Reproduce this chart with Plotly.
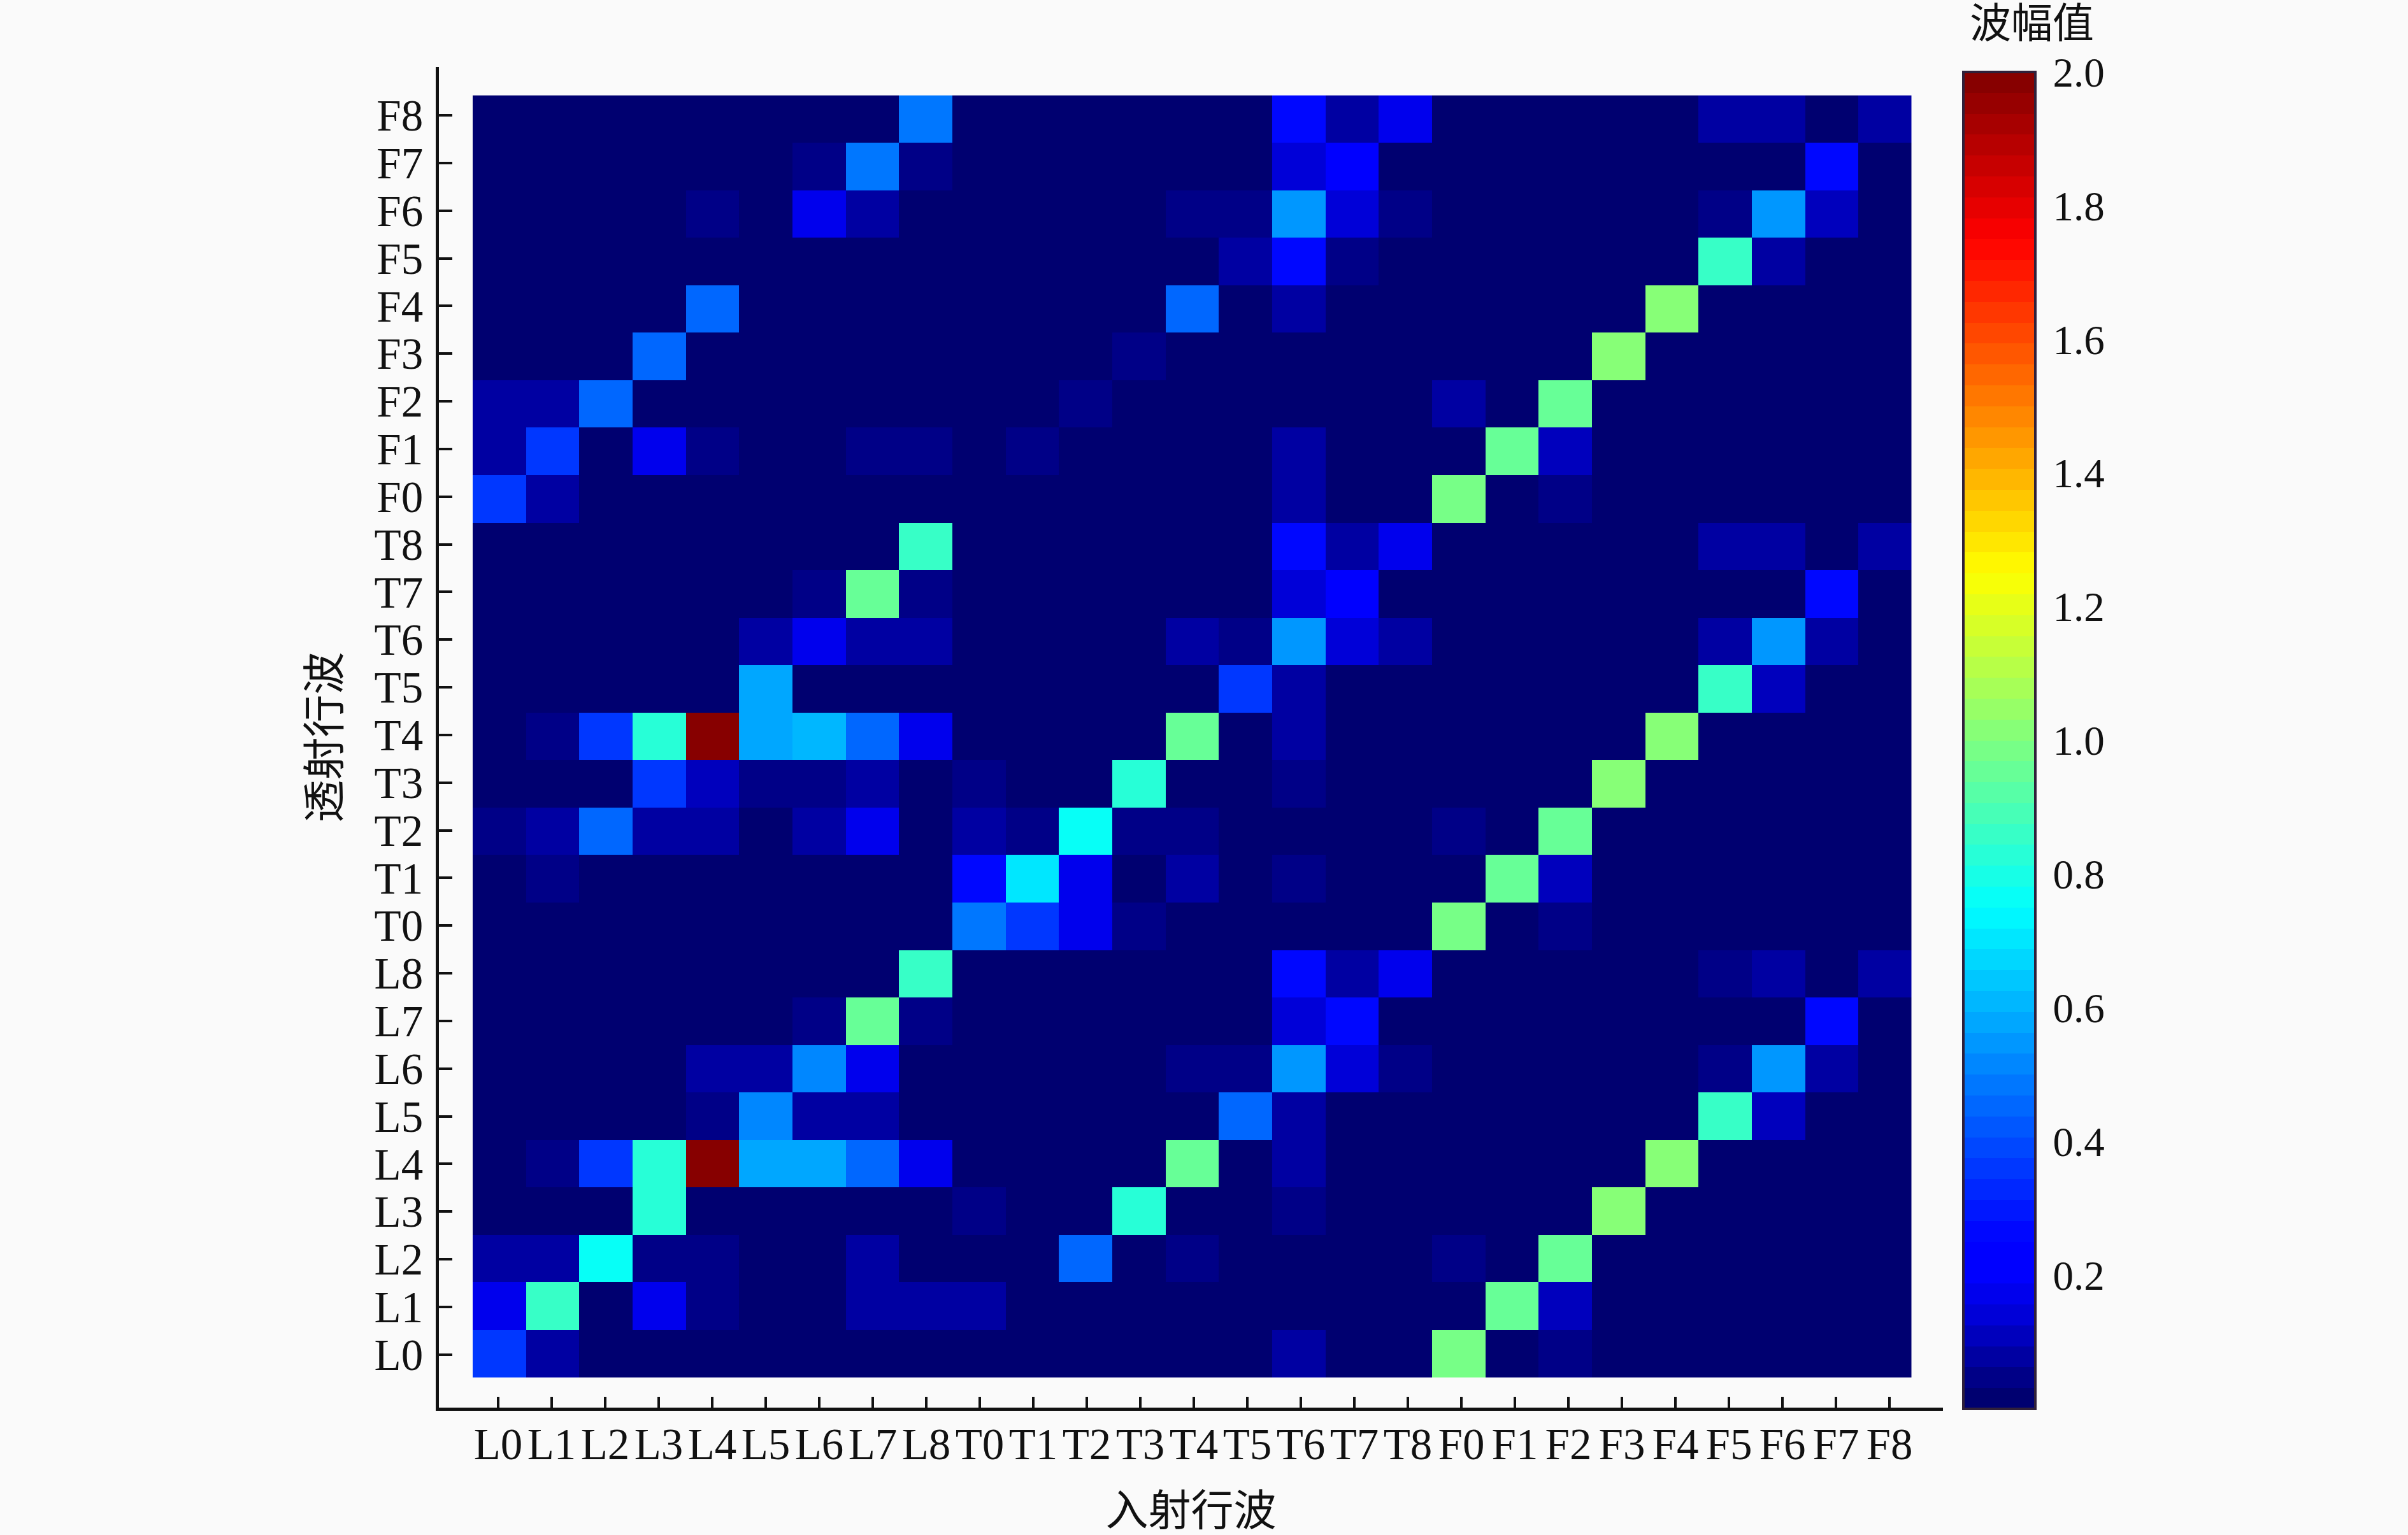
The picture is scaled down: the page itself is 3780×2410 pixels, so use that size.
import numpy as np
import plotly.graph_objects as go

tick_labels = ["L0","L1","L2","L3","L4","L5","L6","L7","L8",
               "T0","T1","T2","T3","T4","T5","T6","T7","T8",
               "F0","F1","F2","F3","F4","F5","F6","F7","F8"]
colorbar_ticks = [0.2,0.4,0.6,0.8,1.0,1.2,1.4,1.6,1.8,2.0]

# amplitude rows (transmitted wave), each with 27 incident-wave columns: L0..L8, T0..T8, F0..F8
row_L0 = [.37,.09,.01,.01,.01,.01,.01,.01,.01, .01,.01,.01,.01,.01,.01,.09,.01,.01, .97,.01,.06,.01,.01,.01,.01,.01,.01]
row_L1 = [.16,.85,.03,.165,.06,.01,.01,.07,.07, .07,.01,.01,.01,.01,.01,.01,.01,.01, .01,.94,.10,.01,.01,.01,.01,.01,.01]
row_L2 = [.09,.09,.75,.06,.05,.01,.01,.08,.01, .01,.01,.45,.01,.05,.01,.01,.01,.01, .05,.01,.94,.01,.01,.01,.01,.01,.01]
row_L3 = [.01,.01,.01,.84,.01,.01,.01,.01,.01, .05,.01,.01,.82,.01,.01,.05,.01,.01, .01,.01,.01,1.0,.01,.01,.01,.01,.01]
row_L4 = [.01,.05,.37,.84,2.0,.58,.58,.45,.165, .01,.01,.01,.01,.94,.01,.09,.01,.01, .01,.01,.01,.01,1.0,.01,.01,.01,.01]
row_L5 = [.01,.01,.01,.01,.05,.53,.08,.07,.01, .01,.01,.01,.01,.01,.45,.09,.01,.01, .01,.01,.01,.01,.01,.85,.10,.01,.01]
row_L6 = [.01,.01,.01,.03,.08,.08,.53,.17,.01, .01,.01,.01,.01,.06,.06,.55,.15,.06, .01,.01,.01,.01,.01,.06,.55,.09,.01]
row_L7 = [.01,.01,.01,.01,.01,.01,.04,.94,.06, .01,.01,.01,.01,.01,.01,.15,.25,.01, .01,.01,.01,.01,.01,.01,.01,.28,.01]
row_L8 = [.01,.01,.01,.01,.01,.01,.01,.01,.87, .01,.01,.01,.01,.01,.01,.25,.09,.165, .01,.01,.01,.01,.01,.06,.09,.01,.09]
row_T0 = [.01,.01,.01,.01,.01,.01,.01,.01,.01, .47,.37,.17,.04,.01,.01,.01,.01,.01, .98,.01,.05,.01,.01,.01,.01,.01,.01]
row_T1 = [.01,.05,.01,.01,.01,.01,.01,.01,.01, .25,.69,.17,.01,.07,.01,.05,.01,.01, .01,.94,.10,.01,.01,.01,.01,.01,.01]
row_T2 = [.06,.07,.46,.09,.09,.01,.09,.17,.01, .09,.04,.75,.04,.06,.01,.01,.01,.01, .06,.01,.94,.01,.01,.01,.01,.01,.01]
row_T3 = [.01,.01,.01,.37,.10,.06,.06,.08,.01, .05,.01,.01,.82,.01,.01,.05,.01,.01, .01,.01,.01,1.0,.01,.01,.01,.01,.01]
row_T4 = [.01,.04,.37,.82,2.0,.58,.61,.45,.165, .01,.01,.01,.01,.94,.01,.09,.01,.01, .01,.01,.01,.01,1.0,.01,.01,.01,.01]
row_T5 = [.01,.01,.01,.01,.01,.58,.01,.01,.01, .01,.01,.01,.01,.01,.35,.09,.01,.01, .01,.01,.01,.01,.01,.85,.10,.01,.01]
row_T6 = [.01,.01,.01,.01,.01,.08,.17,.08,.08, .01,.01,.01,.01,.07,.06,.56,.15,.07, .01,.01,.01,.01,.01,.07,.56,.09,.01]
row_T7 = [.01,.01,.01,.01,.01,.01,.04,.94,.05, .01,.01,.01,.01,.01,.01,.15,.24,.01, .01,.01,.01,.01,.01,.01,.01,.28,.01]
row_T8 = [.01,.01,.01,.01,.01,.01,.01,.01,.87, .01,.01,.01,.01,.01,.01,.25,.09,.165, .01,.01,.01,.01,.01,.07,.09,.01,.09]
row_F0 = [.37,.09,.01,.01,.01,.01,.01,.01,.01, .01,.01,.01,.01,.01,.01,.08,.01,.01, .97,.01,.05,.01,.01,.01,.01,.01,.01]
row_F1 = [.08,.37,.01,.165,.06,.01,.01,.06,.06, .01,.05,.01,.01,.01,.01,.08,.01,.01, .01,.94,.10,.01,.01,.01,.01,.01,.01]
row_F2 = [.07,.07,.45,.01,.01,.01,.01,.01,.01, .01,.01,.06,.01,.01,.01,.01,.01,.01, .07,.01,.94,.01,.01,.01,.01,.01,.01]
row_F3 = [.01,.01,.01,.45,.01,.01,.01,.01,.01, .01,.01,.01,.05,.01,.01,.01,.01,.01, .01,.01,.01,1.0,.01,.01,.01,.01,.01]
row_F4 = [.01,.01,.01,.01,.45,.01,.01,.01,.01, .01,.01,.01,.01,.46,.01,.08,.01,.01, .01,.01,.01,.01,1.0,.01,.01,.01,.01]
row_F5 = [.01,.01,.01,.01,.01,.01,.01,.01,.01, .01,.01,.01,.01,.01,.08,.25,.05,.01, .01,.01,.01,.01,.01,.85,.09,.01,.01]
row_F6 = [.01,.01,.01,.01,.05,.01,.16,.09,.01, .01,.01,.01,.01,.04,.05,.56,.14,.05, .01,.01,.01,.01,.01,.04,.56,.10,.01]
row_F7 = [.01,.01,.01,.01,.01,.01,.04,.47,.05, .01,.01,.01,.01,.01,.01,.14,.24,.01, .01,.01,.01,.01,.01,.01,.01,.28,.01]
row_F8 = [.01,.01,.01,.01,.01,.01,.01,.01,.47, .01,.01,.01,.01,.01,.01,.25,.08,.165, .01,.01,.01,.01,.01,.07,.09,.01,.09]

amplitude = [row_L0,row_L1,row_L2,row_L3,row_L4,row_L5,row_L6,row_L7,row_L8,
             row_T0,row_T1,row_T2,row_T3,row_T4,row_T5,row_T6,row_T7,row_T8,
             row_F0,row_F1,row_F2,row_F3,row_F4,row_F5,row_F6,row_F7,row_F8]

W, H = 3780, 2410
BG = "#fafafa"
SERIF = "Liberation Serif, Noto Sans CJK SC"

# stepped 64-level jet colour scale (0..2)
def level_colour(v):
    r = np.interp(v, [.75, 1.25, 1.75, 2.0], [0, 1, 1, .5])
    g = np.interp(v, [.25, .75, 1.25, 1.75], [0, 1, 1, 0])
    b = np.interp(v, [.02, .085, .15, .2, .75, 1.25], [.44, .66, .88, 1, 1, 0])
    return "rgb(%d,%d,%d)" % (r * 255, g * 255, b * 255)

N = 64
scale = []
for i in range(N):
    c = level_colour((i + .5) / N * 2)
    scale += [[i / N, c], [(i + 1) / N, c]]

fig = go.Figure(go.Heatmap(
    z=amplitude,
    x=list(range(27)), y=list(range(27)),
    zmin=0, zmax=2, colorscale=scale,
    xaxis="x", yaxis="y",
    colorbar=dict(
        x=3082 / W, xanchor="left", xref="paper", xpad=0,
        y=1 - 113 / H, yanchor="top", yref="paper", ypad=0,
        len=2099, lenmode="pixels", thickness=113, thicknessmode="pixels",
        tickvals=colorbar_ticks, tickformat=".1f",
        ticks="outside", ticklen=13, tickwidth=1, tickcolor="rgba(0,0,0,0)",
        outlinecolor="#30203a", outlinewidth=4,
        tickfont=dict(family=SERIF, size=65, color="#111"),
    ),
))

# invisible carrier for the tick axes
fig.add_trace(go.Scatter(x=[0], y=[0], xaxis="x2", yaxis="y2", mode="markers",
                         marker=dict(opacity=0), showlegend=False, hoverinfo="skip"))

xr = [(689 - 782) / 84, (3050 - 782) / 84]
yr = [-(2210 - 2126.7) / 74.83, (2126.7 - 105) / 74.83]

fig.update_layout(
    width=W, height=H, paper_bgcolor=BG, plot_bgcolor="rgba(0,0,0,0)",
    margin=dict(l=0, r=0, t=0, b=0), showlegend=False,
    font=dict(family=SERIF, color="#111"),
    xaxis=dict(domain=[742 / W, 3000.5 / W], range=[-.5, 26.5], visible=False, anchor="y"),
    yaxis=dict(domain=[1 - 2163 / H, 1 - 149.6 / H], range=[-.5, 26.5], visible=False, anchor="x"),
    xaxis2=dict(domain=[689 / W, 3050 / W], range=xr, anchor="y2",
                tickvals=list(range(27)) + [xr[1]], ticktext=tick_labels + [""],
                ticks="inside", ticklen=17, tickwidth=4, tickcolor="#111", tickangle=0,
                showline=True, linewidth=5, linecolor="#111", showgrid=False, zeroline=False,
                ticklabelstandoff=-7,
                tickfont=dict(family=SERIF, size=69, color="#111"),
                title=dict(text="入射行波", font=dict(family=SERIF, size=67, color="#111"), standoff=45)),
    yaxis2=dict(domain=[1 - 2210 / H, 1 - 105 / H], range=yr, anchor="x2",
                tickvals=list(range(27)) + [yr[1]], ticktext=tick_labels + [""],
                ticks="inside", ticklen=21, tickwidth=4, tickcolor="#111",
                showline=True, linewidth=5, linecolor="#111", showgrid=False, zeroline=False,
                ticklabelstandoff=6,
                tickfont=dict(family=SERIF, size=69, color="#111"),
                title=dict(text="透射行波", font=dict(family=SERIF, size=67, color="#111"), standoff=34)),
    annotations=[dict(text="波幅值", x=3189 / W, y=1, xref="paper", yref="paper",
                      xanchor="center", yanchor="top", showarrow=False, borderpad=0,
                      font=dict(family=SERIF, size=65, color="#111"))],
)

fig.write_html("out.html", config={"displayModeBar": False},
               post_script="document.body.style.margin='0';document.body.style.background='%s';" % BG)
